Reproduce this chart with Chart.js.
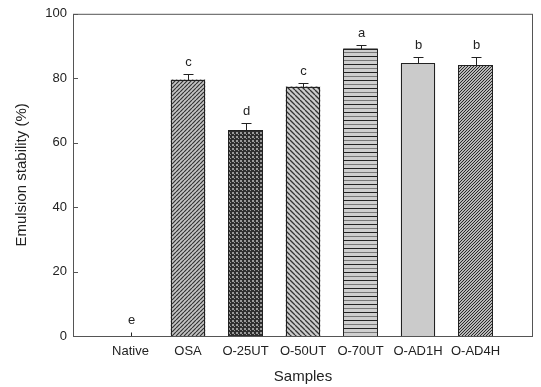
<!DOCTYPE html>
<html>
<head>
<meta charset="utf-8">
<script src="https://cdn.jsdelivr.net/npm/chart.js@4"></script>
<style>
  html, body { margin: 0; padding: 0; background: #fff; }
  #wrap { width: 541px; height: 387px; }
</style>
</head>
<body>
<div id="wrap"><canvas id="chart" width="541" height="387"></canvas></div>
<script>
// data
const samples = ['Native', 'OSA', 'O-25UT', 'O-50UT', 'O-70UT', 'O-AD1H', 'O-AD4H'];
const stability = [0, 79.6, 63.9, 77.4, 89.2, 84.6, 84.1];
const errors = [1.2, 1.6, 2.3, 1.2, 1.2, 2.1, 2.6];
const letters = ['e', 'c', 'd', 'c', 'a', 'b', 'b'];
const yTicks = [0, 20, 40, 60, 80, 100];

// hatch fills
function tile(size, draw) {
    const c = document.createElement('canvas');
    c.width = c.height = size;
    draw(c.getContext('2d'), size);
    return document.createElement('canvas').getContext('2d').createPattern(c, 'repeat');
}
function diag(bg, fg, size, lw, back) {
    return tile(size, (g, s) => {
        g.fillStyle = bg; g.fillRect(0, 0, s, s);
        g.strokeStyle = fg; g.lineWidth = lw;
        g.beginPath();
        for (let k = -1; k <= 1; k++) {
            if (back) { g.moveTo(k * s, 0); g.lineTo(k * s + s, s); }
            else { g.moveTo(k * s, s); g.lineTo(k * s + s, 0); }
        }
        g.stroke();
    });
}
const checker = tile(4, (g) => {
    g.fillStyle = '#2e2e2e'; g.fillRect(0, 0, 4, 4);
    g.fillStyle = '#9a9a9a'; g.fillRect(0, 0, 2, 2); g.fillRect(2, 2, 1, 1);
});
const stripes = tile(8, (g) => {
    g.fillStyle = '#cfcfcf'; g.fillRect(0, 0, 8, 8);
    g.fillStyle = '#222'; g.fillRect(0, 0, 8, 1);
    g.fillStyle = '#777'; g.fillRect(0, 4, 8, 1);
});

const fills = [
    '#ccc',
    diag('#c4c4c4', '#333', 4, 1.2, false),
    checker,
    diag('#cccccc', '#333', 5, 1.3, true),
    stripes,
    '#cbcbcb',
    diag('#b8b8b8', '#2a2a2a', 3, 1.0, false)
];

// bar outlines, error bars, letters, frame and inward ticks
const extras = {
    id: 'extras',
    afterDatasetsDraw(chart) {
        const ctx = chart.ctx, x = chart.scales.x, y = chart.scales.y, a = chart.chartArea;
        const bars = chart.getDatasetMeta(0).data;
        ctx.save();
        ctx.strokeStyle = '#222';
        ctx.lineWidth = 1;
        samples.forEach((s, i) => {
            const bar = bars[i + 1];
            const px = Math.round(x.getPixelForValue(i + 1)) + 0.5;
            const top = y.getPixelForValue(stability[i]);
            const hi = y.getPixelForValue(stability[i] + errors[i]);
            if (stability[i] > 0) {
                const l = Math.round(bar.x - bar.width / 2) + 0.5;
                const r = Math.round(bar.x + bar.width / 2) - 0.5;
                ctx.strokeRect(l, Math.round(top) + 0.5, r - l, Math.round(bar.base) - Math.round(top));
            }
            ctx.beginPath();
            ctx.moveTo(px, Math.round(top)); ctx.lineTo(px, Math.round(hi) + 0.5);
            if (stability[i] > 0) { ctx.moveTo(px - 5, Math.round(hi) + 0.5); ctx.lineTo(px + 5, Math.round(hi) + 0.5); }
            ctx.stroke();
            ctx.fillStyle = '#222';
            ctx.font = '13px "Liberation Sans", Arial, sans-serif';
            ctx.textAlign = 'center';
            ctx.textBaseline = 'alphabetic';
            ctx.fillText(letters[i], px, hi - 8);
        });
        ctx.strokeStyle = '#555';
        ctx.strokeRect(a.left + 0.5, a.top + 0.5, a.right - a.left - 1, a.bottom - a.top);
        yTicks.forEach(v => {
            const py = Math.round(y.getPixelForValue(v)) + 0.5;
            ctx.beginPath();
            ctx.moveTo(a.left, py); ctx.lineTo(a.left + 5, py);
            ctx.stroke();
        });
        ctx.restore();
    }
};

new Chart(document.getElementById('chart'), {
    type: 'bar',
    data: {
        labels: ['', ...samples, ''],
        datasets: [{
            data: [null, ...stability, null],
            backgroundColor: ['#fff', ...fills, '#fff'],
            borderWidth: 0,
            categoryPercentage: 1,
            barPercentage: 0.6
        }]
    },
    options: {
        responsive: false,
        animation: false,
        layout: { padding: { top: 10, right: 4, left: 0, bottom: 0 } },
        plugins: { legend: { display: false }, tooltip: { enabled: false } },
        scales: {
            x: {
                offset: false,
                grid: { display: false, drawTicks: false, tickLength: 0 },
                border: { display: false },
                ticks: {
                    color: '#222', padding: 8, maxRotation: 0, autoSkip: false,
                    font: { family: '"Liberation Sans", Arial, sans-serif', size: 13 }
                },
                title: {
                    display: true, text: 'Samples', color: '#222',
                    padding: { top: 4, bottom: 1 },
                    font: { family: '"Liberation Sans", Arial, sans-serif', size: 15 }
                },
                afterFit(s) { s.height = 51; }
            },
            y: {
                min: 0, max: 100,
                afterBuildTicks(s) { s.ticks = yTicks.map(v => ({ value: v })); },
                grid: { display: false, drawTicks: false, tickLength: 0 },
                border: { display: false },
                ticks: {
                    color: '#222', padding: 6,
                    font: { family: '"Liberation Sans", Arial, sans-serif', size: 13 }
                },
                title: {
                    display: true, text: 'Emulsion stability (%)', color: '#222',
                    padding: { top: 13, bottom: 4 },
                    font: { family: '"Liberation Sans", Arial, sans-serif', size: 15 }
                },
                afterFit(s) { s.width = 73; }
            }
        }
    },
    plugins: [extras]
});
</script>
</body>
</html>
